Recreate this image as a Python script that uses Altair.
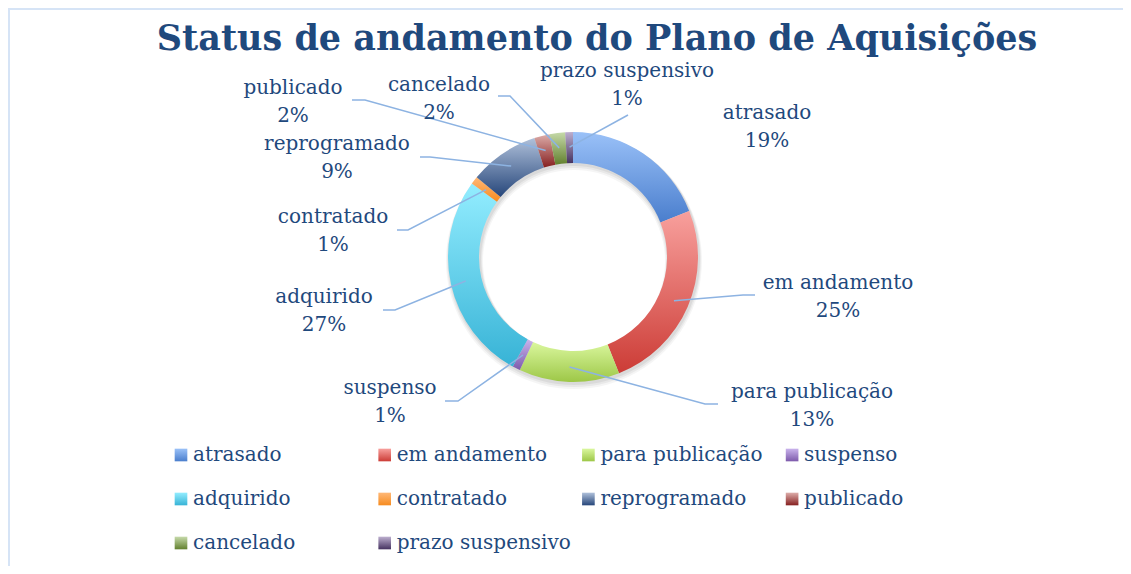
import math
import altair as alt
import pandas as pd

# ---------------- data ----------------
categories = ["atrasado", "em andamento", "para publicação", "suspenso", "adquirido",
              "contratado", "reprogramado", "publicado", "cancelado", "prazo suspensivo"]
percent = [19, 25, 13, 1, 27, 1, 9, 2, 2, 1]
title_text = "Status de andamento do Plano de Aquisições"

# gradient colours (top -> bottom) per slice
grad_top = ["#9AC1F8", "#F8A09D", "#DAF79E", "#C9B3EC", "#93EDFF",
            "#FFB877", "#AFC0DA", "#DDADAA", "#C6DAAA", "#BDAFCF"]
grad_bottom = ["#4A7ECD", "#CC3C36", "#9DC747", "#7D5AAB", "#37B3D6",
               "#F68B1F", "#26467A", "#862020", "#62802E", "#453260"]

# ---------------- layout ----------------
W, H = 1115, 558
CX, CY = 565, 249
R_OUT, R_IN = 125, 94
R_MID = 110
TEXT_COLOR = "#1F497D"
LEADER_COLOR = "#8DB3E2"
FONT = "DejaVu Serif"
FS = 20

# label block centres, offset from ring centre (px)
label_off = [(194, -130), (265, 40), (239, 149), (-183, 145), (-249, 54),
             (-240, -26), (-236, -99), (-280, -155), (-134, -158), (54, -172)]
# leader line outer end, offset from ring centre; None = no leader
leader_end = [None, (182, 38), (145, 147), (-128, 144), (-190, 53),
              (-176, -27), (-153, -100), (-221, -157), (-75, -161), (55, -142)]
elbow_len = [0, 12, 13, 13, 12, 11, 10, 13, 12, 0]

LEG_X0, LEG_DX = 173, 203.7
LEG_Y0, LEG_DY = 447, 44

total = sum(percent)
n = len(categories)

df = pd.DataFrame({"category": categories, "value": percent, "order": list(range(n))})

def grad(i):
    return alt.LinearGradient(
        gradient="linear",
        stops=[alt.GradientStop(color=grad_top[i], offset=0),
               alt.GradientStop(color=grad_bottom[i], offset=1)],
        x1=0, x2=0, y1=0, y2=1)

xs = alt.Scale(domain=[0, W], range=[0, W], nice=False, zero=False)
ys = alt.Scale(domain=[0, H], range=[0, H], nice=False, zero=False)
theta_scale = alt.Scale(domain=[0, total], range=[0, 2 * math.pi])

layers = []

# border (top + left)
border = pd.DataFrame({"a": [0]})
layers.append(alt.Chart(border).mark_rule(color="#D6E4F6", strokeWidth=2).encode(
    x=alt.value(1), y=alt.value(0), y2=alt.value(H)))
layers.append(alt.Chart(border).mark_rule(color="#D6E4F6", strokeWidth=2).encode(
    x=alt.value(0), x2=alt.value(W), y=alt.value(1)))

# title
layers.append(alt.Chart(pd.DataFrame({"t": [title_text]})).mark_text(
    font=FONT, fontSize=35, fontWeight="bold", color=TEXT_COLOR,
    align="center", baseline="alphabetic").encode(
    x=alt.value(589), y=alt.value(42), text="t:N"))

# soft shadow under the ring
for k, (dy, ri, ro, op) in enumerate([(4, R_IN - 3, R_OUT + 3, 0.04),
                                      (3, R_IN - 2, R_OUT + 2, 0.05),
                                      (2, R_IN - 1, R_OUT + 1, 0.06)]):
    layers.append(alt.Chart(border).mark_arc(
        theta=0, theta2=2 * math.pi - 0.0001, innerRadius=ri, outerRadius=ro,
        color="#000000", opacity=op).encode(x=alt.value(CX + 1), y=alt.value(CY + dy)))

# slices
for i, cat in enumerate(categories):
    layers.append(
        alt.Chart(df)
        .transform_window(cum="sum(value)", sort=[alt.SortField("order")], frame=[None, 0])
        .transform_calculate(start="datum.cum - datum.value")
        .transform_filter(alt.datum.category == cat)
        .mark_arc(outerRadius=R_OUT, innerRadius=R_IN, fill=grad(i), stroke=None)
        .encode(theta=alt.Theta("start:Q", scale=theta_scale),
                theta2="cum:Q",
                x=alt.value(CX), y=alt.value(CY))
    )

# leader lines
rows = []
cum = 0
for i, (cat, v) in enumerate(zip(categories, percent)):
    mid = cum + v / 2
    cum += v
    if leader_end[i] is None:
        continue
    ang = mid / total * 2 * math.pi
    ax = CX + R_MID * math.sin(ang)
    ay = CY - R_MID * math.cos(ang)
    ex = CX + leader_end[i][0]
    ey = CY + leader_end[i][1]
    side = -1 if leader_end[i][0] < 0 else 1
    px = ex - side * elbow_len[i]
    rows += [{"category": cat, "k": 0, "lx": ax, "ly": ay},
             {"category": cat, "k": 1, "lx": px, "ly": ey},
             {"category": cat, "k": 2, "lx": ex, "ly": ey}]
lead_df = pd.DataFrame(rows)
layers.append(alt.Chart(lead_df).mark_line(color=LEADER_COLOR, strokeWidth=1.5).encode(
    x=alt.X("lx:Q", scale=xs, axis=None),
    y=alt.Y("ly:Q", scale=ys, axis=None),
    detail="category:N", order="k:Q"))

# data labels
lab_df = pd.DataFrame({
    "category": categories,
    "pct": [f"{v}%" for v in percent],
    "lx": [CX + o[0] for o in label_off],
    "ly": [CY + o[1] for o in label_off],
})
layers.append(alt.Chart(lab_df).mark_text(
    font=FONT, fontSize=FS, color=TEXT_COLOR, align="center", baseline="middle", dy=-14).encode(
    x=alt.X("lx:Q", scale=xs, axis=None), y=alt.Y("ly:Q", scale=ys, axis=None), text="category:N"))
layers.append(alt.Chart(lab_df).mark_text(
    font=FONT, fontSize=FS, color=TEXT_COLOR, align="center", baseline="middle", dy=14).encode(
    x=alt.X("lx:Q", scale=xs, axis=None), y=alt.Y("ly:Q", scale=ys, axis=None), text="pct:N"))

# legend
leg_df = pd.DataFrame({
    "category": categories,
    "sx": [LEG_X0 + (i % 4) * LEG_DX for i in range(n)],
    "sy": [LEG_Y0 + (i // 4) * LEG_DY for i in range(n)],
})
for i, cat in enumerate(categories):
    layers.append(alt.Chart(leg_df).transform_filter(alt.datum.category == cat).mark_square(
        size=160, fill=grad(i), opacity=1, filled=True).encode(
        x=alt.X("sx:Q", scale=xs, axis=None), y=alt.Y("sy:Q", scale=ys, axis=None)))
layers.append(alt.Chart(leg_df).mark_text(
    font=FONT, fontSize=FS, color=TEXT_COLOR, align="left", baseline="middle", dx=12).encode(
    x=alt.X("sx:Q", scale=xs, axis=None), y=alt.Y("sy:Q", scale=ys, axis=None), text="category:N"))

chart = alt.layer(*layers).properties(
    width=W, height=H, autosize=alt.AutoSizeParams(type="none"), padding=0,
    background="white"
).configure_view(stroke=None)

chart.save("out.html", embed_options={"renderer": "svg", "actions": False})
